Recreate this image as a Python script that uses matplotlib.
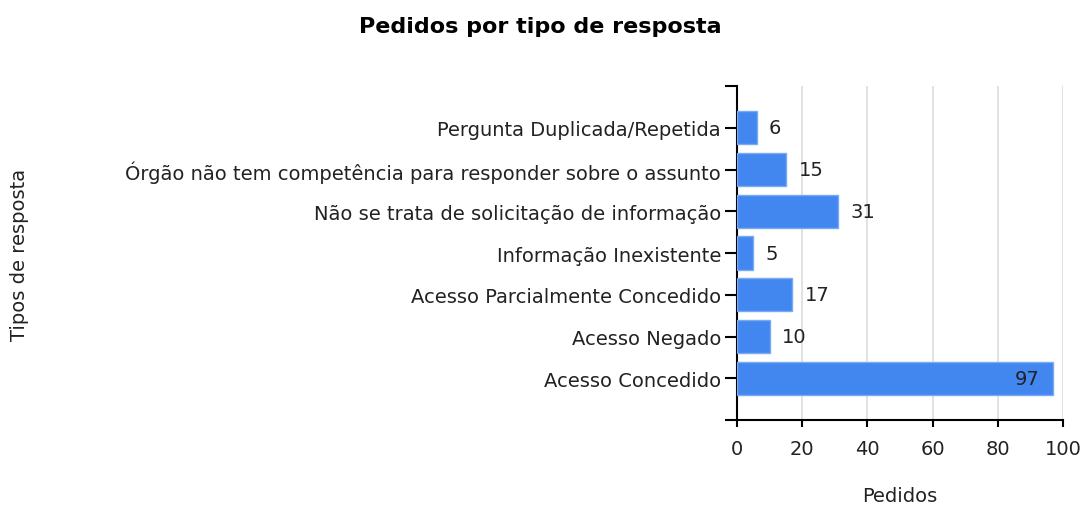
import matplotlib
matplotlib.use("Agg")
import matplotlib.pyplot as plt

# respostas (de baixo para cima no gráfico)
tipos = ["Acesso Concedido", "Acesso Negado", "Acesso Parcialmente Concedido",
         "Informação Inexistente", "Não se trata de solicitação de informação",
         "Órgão não tem competência para responder sobre o assunto",
         "Pergunta Duplicada/Repetida"]
pedidos = [97, 10, 17, 5, 31, 15, 6]
xticks = [0, 20, 40, 60, 80, 100]

plt.rcParams['font.family'] = ['DejaVu Sans']
fs = 14

fig = plt.figure(figsize=(10.83, 5.06), dpi=100)
ax = fig.add_axes([737/1083, 1-421/506, 326/1083, 334/506])

pos = list(range(len(tipos)))
ax.barh(pos, pedidos, height=0.8, color="#4286f0", edgecolor="#7aaaf4", linewidth=1, zorder=3)

for y, v in zip(pos, pedidos):
    if v > 80:
        ax.annotate(str(v), (v, y), xytext=(-10, 0), textcoords="offset points",
                    ha="right", va="center", fontsize=fs, color="#222222", zorder=4)
    else:
        ax.annotate(str(v), (v, y), xytext=(9, 0), textcoords="offset points",
                    ha="left", va="center", fontsize=fs, color="#222222", zorder=4)

ax.set_xlim(0, 100)
ax.set_ylim(-1, len(tipos))
ax.set_xticks(xticks)
ax.set_yticks([-1] + pos + [len(tipos)])
ax.set_yticklabels([""] + tipos + [""], fontsize=fs, color="#222222")
ax.tick_params(axis="x", labelsize=fs, labelcolor="#222222", length=5, width=1.5, pad=9)
ax.tick_params(axis="y", length=8.5, width=1.5, pad=3)
ax.grid(axis="x", color="#dddddd", linewidth=1.2, zorder=0)
for s in ["top", "right"]:
    ax.spines[s].set_visible(False)
ax.spines["left"].set_linewidth(1.5)
ax.spines["bottom"].set_linewidth(1.5)

fig.text(540/1083, 1-27/506, "Pedidos por tipo de resposta", ha="center", va="center",
         fontsize=16, fontweight="bold")
fig.text(20/1083, 1-255/506, "Tipos de resposta", rotation=90, ha="center", va="center",
         fontsize=fs, color="#222222")
fig.text(900/1083, 1-497/506, "Pedidos", ha="center", va="center", fontsize=fs, color="#222222")

fig.savefig("out.png", dpi=100)
